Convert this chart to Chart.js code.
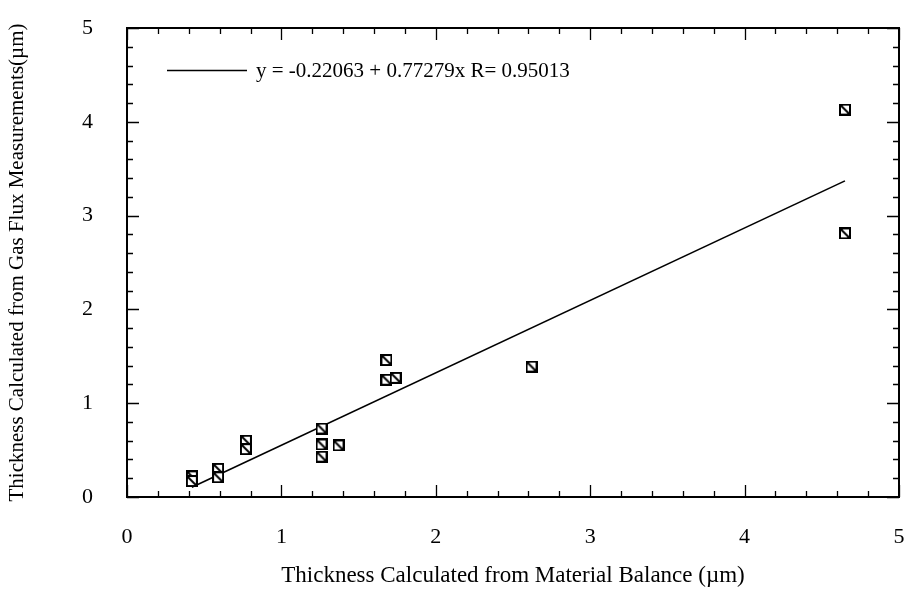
<!DOCTYPE html>
<html>
<head>
<meta charset="utf-8">
<script src="https://cdn.jsdelivr.net/npm/chart.js@4.4.1/dist/chart.umd.min.js"></script>
<style>
html,body{margin:0;padding:0;background:#fff;}
#wrap{width:906px;height:590px;position:relative;}
</style>
</head>
<body>
<div id="wrap"><canvas id="c" width="906" height="590"></canvas></div>
<script>
// ---- data ----
const materialBalance = [0.42, 0.42, 0.59, 0.59, 0.77, 0.77, 1.26, 1.26, 1.26, 1.37, 1.68, 1.68, 1.74, 2.62, 4.65, 4.65];
const gasFlux        = [0.22, 0.17, 0.30, 0.21, 0.60, 0.51, 0.73, 0.56, 0.43, 0.55, 1.46, 1.25, 1.27, 1.39, 4.13, 2.81];
const fitX = [0.42, 4.65];
const fitY = [0.105, 3.37];
const fitLabel = "y = -0.22063 + 0.77279x R= 0.95013";
const xTicks = [0, 1, 2, 3, 4, 5];
const yTicks = [0, 1, 2, 3, 4, 5];
const xTitle = "Thickness Calculated from Material Balance (\u00b5m)";
const yTitle = "Thickness Calculated from Gas Flux Measurements(\u00b5m)";

const FONT = "'Liberation Serif', 'Times New Roman', serif";

// hatched square marker
function makeMarker() {
  const s = 12;
  const cv = document.createElement('canvas');
  cv.width = s; cv.height = s;
  const g = cv.getContext('2d');
  g.fillStyle = '#fff';
  g.fillRect(0, 0, s, s);
  g.strokeStyle = '#000';
  g.lineWidth = 2;
  g.strokeRect(1, 1, s - 2, s - 2);
  g.beginPath();
  g.moveTo(2, 2);
  g.lineTo(s - 2, s - 2);
  g.stroke();
  return cv;
}
const marker = makeMarker();

const scatterData = materialBalance.map((x, i) => ({x: x, y: gasFlux[i]}));
const fitData = fitX.map((x, i) => ({x: x, y: fitY[i]}));

const frameTicks = {
  id: 'frameTicks',
  afterDatasetsDraw(chart) {
    const ctx = chart.ctx;
    const a = chart.chartArea;
    const xs = chart.scales.x, ys = chart.scales.y;
    ctx.save();
    ctx.strokeStyle = '#000';
    ctx.lineWidth = 2;
    ctx.strokeRect(a.left, a.top, a.right - a.left, a.bottom - a.top);
    ctx.lineWidth = 1.3;
    const major = 12, minor = 6;
    for (let v = 0; v <= 5.0001; v += 0.2) {
      const isMajor = Math.abs(v - Math.round(v)) < 1e-6;
      const L = isMajor ? major : minor;
      const px = Math.round(xs.getPixelForValue(v)) + 0.5;
      ctx.beginPath();
      ctx.moveTo(px, a.bottom); ctx.lineTo(px, a.bottom - L);
      ctx.moveTo(px, a.top); ctx.lineTo(px, a.top + L);
      ctx.stroke();
      const py = Math.round(ys.getPixelForValue(v)) + 0.5;
      ctx.beginPath();
      ctx.moveTo(a.left, py); ctx.lineTo(a.left + L, py);
      ctx.moveTo(a.right, py); ctx.lineTo(a.right - L, py);
      ctx.stroke();
    }
    // legend inside plot
    const ds = chart.data.datasets[1];
    const ly = 70.5;
    ctx.lineWidth = 1.4;
    ctx.beginPath();
    ctx.moveTo(167, ly); ctx.lineTo(247, ly);
    ctx.stroke();
    ctx.fillStyle = '#000';
    ctx.font = "21px " + FONT;
    ctx.textBaseline = 'middle';
    ctx.textAlign = 'left';
    ctx.fillText(ds.label, 256, ly + 1);
    ctx.restore();
  }
};

function noPad(s) { s.paddingLeft = 0; s.paddingRight = 0; s.paddingTop = 0; s.paddingBottom = 0; }

new Chart(document.getElementById('c'), {
  data: {
    datasets: [
      {
        type: 'scatter',
        label: 'data',
        data: scatterData,
        pointStyle: marker,
        pointRadius: 6,
        pointHoverRadius: 6
      },
      {
        type: 'line',
        label: fitLabel,
        data: fitData,
        borderColor: '#000',
        borderWidth: 1.6,
        pointRadius: 0,
        fill: false
      }
    ]
  },
  options: {
    responsive: false,
    animation: false,
    events: [],
    layout: {padding: {top: 28, right: 4, left: 0, bottom: 0}},
    plugins: {legend: {display: false}, tooltip: {enabled: false}},
    scales: {
      x: {
        type: 'linear', min: 0, max: 5,
        afterBuildTicks: s => { s.ticks = xTicks.map(v => ({value: v})); },
        afterFit: s => { s.height = 93; noPad(s); },
        grid: {display: false, drawTicks: false},
        border: {display: false},
        ticks: {color: '#000', font: {family: FONT, size: 22}, padding: 27, maxRotation: 0},
        title: {display: true, text: xTitle, color: '#000', font: {family: FONT, size: 23}, padding: {top: 0, bottom: 0}}
      },
      y: {
        type: 'linear', min: 0, max: 5,
        afterBuildTicks: s => { s.ticks = yTicks.map(v => ({value: v})); },
        afterFit: s => { s.width = 127; noPad(s); },
        grid: {display: false, drawTicks: false},
        border: {display: false},
        ticks: {color: '#000', font: {family: FONT, size: 22}, padding: 34},
        title: {display: true, text: yTitle, color: '#000', font: {family: FONT, size: 21}, padding: {top: 5, bottom: 0}}
      }
    }
  },
  plugins: [frameTicks]
});
</script>
</body>
</html>
